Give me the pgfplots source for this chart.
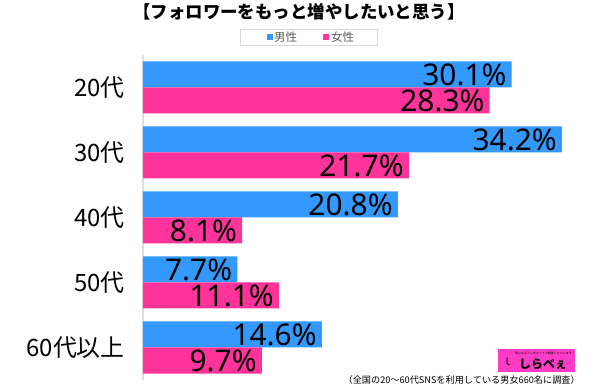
\documentclass[border=0pt]{standalone}
\usepackage{pgfplots}
\pgfplotsset{compat=1.18}
\usepackage{fontspec}
\setmainfont{Noto Sans CJK JP}
\newfontfamily\num{Noto Sans}
\definecolor{mblue}{RGB}{51,153,255}
\definecolor{fpink}{RGB}{255,51,153}
\definecolor{logopink}{RGB}{255,60,200}
\begin{document}
\begin{tikzpicture}
\begin{axis}[
  x=12.25bp, y=65bp,
  xmin=0, xmax=37.3, ymin=-0.5, ymax=4.5,
  xbar, bar width=26bp,
  axis x line=none,
  axis y line*=left,
  y axis line style={draw=gray!25, line width=1.2bp},
  ytick={0,...,4},
  yticklabels={60代以上,50代,40代,30代,20代},
  major tick length=0pt,
  yticklabel style={font=\fontsize{24}{24}\selectfont, inner sep=0pt, xshift=-18bp, text=black},
  point meta=x,
  nodes near coords={\pgfmathprintnumber[fixed,fixed zerofill,precision=1,assume math mode=true]{\pgfplotspointmeta}\%},
  every node near coord/.append style={anchor=east, inner sep=0pt, xshift=-5bp, font=\num\fontsize{30}{30}\selectfont, text=black},
  clip=false,
]
\addplot[draw=none, fill=mblue, bar shift=13bp] coordinates {(30.1,4) (34.2,3) (20.8,2) (7.7,1) (14.6,0)};
\addplot[draw=none, fill=fpink, bar shift=-13bp] coordinates {(28.3,4) (21.7,3) (8.1,2) (11.1,1) (9.7,0)};
\coordinate (o) at (axis cs:0,-0.5);
\end{axis}
\pgfresetboundingbox
\path[use as bounding box] ([shift={(-143bp,-6bp)}]o) rectangle ++(600bp,386bp);
\coordinate (tl) at ([shift={(-143bp,380bp)}]o);
\node[font=\bfseries\fontsize{17.5}{17.5}\selectfont, inner sep=0pt] at ([shift={(299bp,-12bp)}]tl) {【フォロワーをもっと増やしたいと思う】};
\draw[gray!30, line width=0.8bp] ([shift={(240bp,-29bp)}]tl) rectangle ([shift={(377bp,-45bp)}]tl);
\fill[mblue] ([shift={(267bp,-34bp)}]tl) rectangle ++(6bp,-6bp);
\node[anchor=west, inner sep=0pt, text=black!65, font=\fontsize{11.5}{11.5}\selectfont] at ([shift={(274bp,-37bp)}]tl) {男性};
\fill[fpink] ([shift={(323bp,-34bp)}]tl) rectangle ++(6bp,-6bp);
\node[anchor=west, inner sep=0pt, text=black!65, font=\fontsize{11.5}{11.5}\selectfont] at ([shift={(331bp,-37bp)}]tl) {女性};
\fill[logopink] ([shift={(498bp,-349bp)}]tl) rectangle ([shift={(575bp,-372bp)}]tl);
\node[inner sep=0pt, font=\bfseries\fontsize{12}{12}\selectfont] at ([shift={(543bp,-364bp)}]tl) {しらべぇ};
\node[inner sep=0pt, font=\bfseries\fontsize{14}{14}\selectfont] at ([shift={(508bp,-362bp)}]tl) {\num ɩ};
\node[inner sep=0pt, font=\fontsize{3}{3}\selectfont] at ([shift={(545bp,-353bp)}]tl) {気になるアレをネットで調査しちゃいます！};
\node[anchor=east, inner sep=0pt, font=\fontsize{9.2}{9.2}\selectfont] at ([shift={(580bp,-380bp)}]tl) {（全国の20～60代SNSを利用している男女660名に調査）};
\end{tikzpicture}
\end{document}
